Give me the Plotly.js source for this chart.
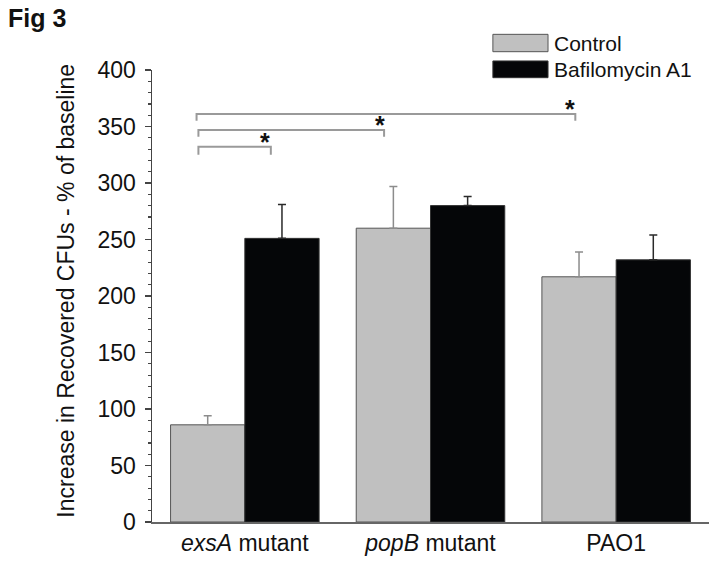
<!DOCTYPE html>
<html>
<head>
<meta charset="utf-8">
<script src="https://cdn.plot.ly/plotly-3.0.1.min.js"></script>
<style>html,body{margin:0;padding:0;background:#fff;}#chart{width:717px;height:562px;}</style>
</head>
<body>
<div id="chart"></div>
<script>
// ---- data ----
var categories = ["<i>exsA</i> mutant", "<i>popB</i> mutant", "PAO1"];
var controlValues = [86, 260, 217];
var controlErrors = [8, 37, 22];
var bafValues = [251, 280, 232];
var bafErrors = [30, 8, 22];
var seriesNames = ["Control", "Bafilomycin A1"];
var yTicks = [0, 50, 100, 150, 200, 250, 300, 350, 400];
var yTitle = "Increase in Recovered CFUs - % of baseline";
var figLabel = "Fig 3";
// significance brackets: start / end (category units), top value, leg bottom value
var bracketStart = [-0.25, -0.25, -0.26];
var bracketEnd = [0.14, 0.75, 1.78];
var bracketTop = [332, 347, 361];
var bracketLeg = [325, 341, 355];
var starX = [0.11, 0.73, 1.75];
var starLabel = ["*", "*", "*"];

var FONT = "Liberation Sans, Arial, sans-serif";

var traces = [
  {
    type: "bar", name: seriesNames[0], x: categories, y: controlValues,
    marker: {color: "#c0c0c0", line: {color: "#555555", width: 1}},
    error_y: {type: "data", array: controlErrors, arrayminus: [0,0,0], color: "#8c8c8c", thickness: 1.5, width: 4},
    showlegend: false
  },
  {
    type: "bar", name: seriesNames[1], x: categories, y: bafValues,
    marker: {color: "#050608", line: {color: "#333333", width: 1}},
    error_y: {type: "data", array: bafErrors, arrayminus: [0,0,0], color: "#2a2a2a", thickness: 1.5, width: 4},
    showlegend: false
  }
];

var shapes = [];
var annotations = [];
for (var i = 0; i < bracketStart.length; i++) {
  shapes.push({
    type: "path", xref: "x", yref: "y",
    path: "M " + bracketStart[i] + "," + bracketLeg[i] + " L " + bracketStart[i] + "," + bracketTop[i] +
          " L " + bracketEnd[i] + "," + bracketTop[i] + " L " + bracketEnd[i] + "," + bracketLeg[i],
    line: {color: "#9a9a9a", width: 2}
  });
  annotations.push({
    xref: "x", yref: "y", x: starX[i], y: bracketTop[i], yanchor: "bottom", yshift: -11,
    text: "<b>" + starLabel[i] + "</b>", showarrow: false,
    font: {family: FONT, size: 25, color: "#111"}
  });
}

// custom legend (paper coords)
var legendColors = ["#c0c0c0", "#050608"];
var legendLines = ["#555555", "#333333"];
var legendRows = [[1.0405, 1.0789], [0.983, 1.020]];
for (var j = 0; j < seriesNames.length; j++) {
  shapes.push({
    type: "rect", xref: "paper", yref: "paper",
    x0: 0.612, x1: 0.711, y0: legendRows[j][0], y1: legendRows[j][1],
    fillcolor: legendColors[j], line: {color: legendLines[j], width: 1}
  });
  annotations.push({
    xref: "paper", yref: "paper", x: 0.718, y: (legendRows[j][0] + legendRows[j][1]) / 2,
    xanchor: "left", yanchor: "middle", text: seriesNames[j], showarrow: false,
    font: {family: FONT, size: 21, color: "#111"}
  });
}

// figure label
annotations.push({
  xref: "paper", yref: "paper", x: -0.262, y: 1.115, xanchor: "left", yanchor: "middle",
  text: "<b>" + figLabel + "</b>", showarrow: false,
  font: {family: FONT, size: 25, color: "#111"}
});

// y axis title as rotated annotation
annotations.push({
  xref: "paper", yref: "paper", x: -0.156, y: 0.512, xanchor: "center", yanchor: "middle",
  text: yTitle, textangle: -90, showarrow: false,
  font: {family: FONT, size: 23, color: "#111"}
});

var layout = {
  width: 717, height: 562,
  margin: {l: 152, r: 8, t: 70, b: 40, pad: 0},
  paper_bgcolor: "#ffffff", plot_bgcolor: "#ffffff",
  barmode: "group", bargap: 0.2, bargroupgap: 0,
  font: {family: FONT, size: 20, color: "#111"},
  showlegend: false,
  xaxis: {
    type: "category", range: [-0.5, 2.5],
    showline: true, linecolor: "#666666", linewidth: 1.5,
    ticks: "", showgrid: false, zeroline: false,
    tickfont: {family: FONT, size: 23, color: "#111"}
  },
  yaxis: {
    range: [0, 400], tickvals: yTicks, ticktext: yTicks.map(String),
    showline: true, linecolor: "#444444", linewidth: 1.5,
    ticks: "outside", ticklen: 6, tickwidth: 1.5, tickcolor: "#444444",
    minor: {dtick: 10, ticks: "outside", ticklen: 3, tickwidth: 1.2, tickcolor: "#444444"},
    showgrid: false, zeroline: false, ticklabelstandoff: 4,
    tickfont: {family: FONT, size: 23, color: "#111"}
  },
  shapes: shapes,
  annotations: annotations
};

Plotly.newPlot("chart", traces, layout, {displayModeBar: false, staticPlot: true});
</script>
</body>
</html>
